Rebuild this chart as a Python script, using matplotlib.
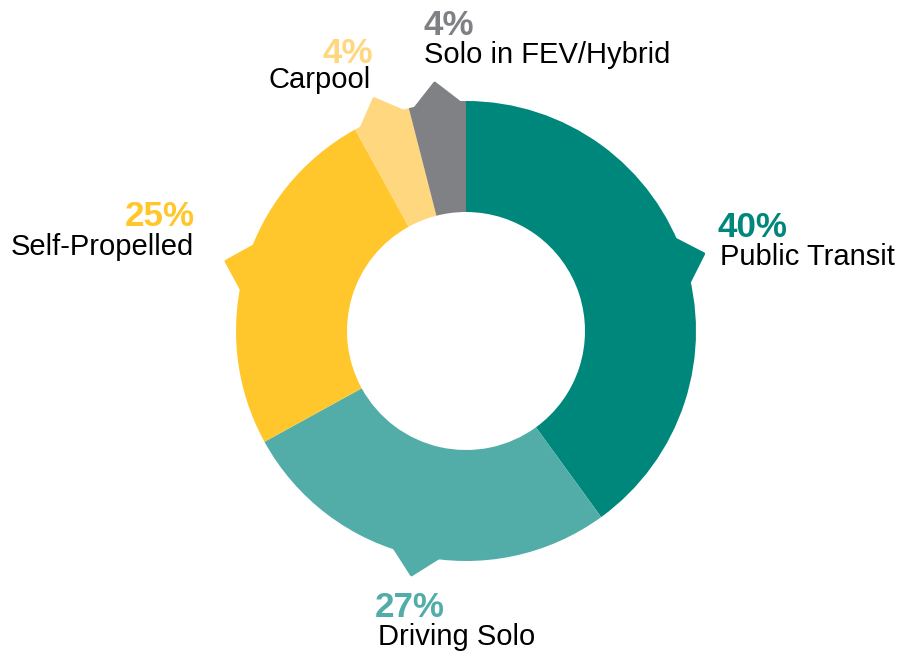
import numpy as np
import matplotlib.pyplot as plt
from matplotlib.patches import Polygon

# Commute mode share
categories = ['Public Transit', 'Driving Solo', 'Self-Propelled', 'Carpool', 'Solo in FEV/Hybrid']
shares = [40, 27, 25, 4, 4]
colors = ['#00877B', '#52ADA8', '#FFC72C', '#FFD77E', '#808185']

# label anchors in pixels (pct x, pct baseline, label x, label baseline, alignment)
label_pos = [
    (717, 237, 720, 265, 'left'),
    (375, 617, 378, 645, 'left'),
    (195, 226, 194, 255, 'right'),
    (373, 63, 371, 88, 'right'),
    (423, 35, 424, 63, 'left'),
]

W, H = 902, 654
cx, cy, R = 466, 331, 230  # donut centre and outer radius in px

fig = plt.figure(figsize=(W / 100, H / 100), dpi=100)
ax = fig.add_axes([0, 0, 1, 1])

ax.pie(shares, colors=colors, startangle=90, counterclock=False, radius=1,
       wedgeprops=dict(width=1 - 119 / R, linewidth=0))

# little pointer tabs at the middle of each slice
total = sum(shares)
start = 90.0
for val, col in zip(shares, colors):
    span = 360.0 * val / total
    mid = np.deg2rad(start - span / 2)
    hw = np.deg2rad(6.0)
    pts = [
        (0.99 * np.cos(mid - hw), 0.99 * np.sin(mid - hw)),
        (1.087 * np.cos(mid), 1.087 * np.sin(mid)),
        (0.99 * np.cos(mid + hw), 0.99 * np.sin(mid + hw)),
    ]
    ax.add_patch(Polygon(pts, closed=True, facecolor=col, edgecolor=col,
                         linewidth=2, joinstyle='round'))
    start -= span


def px(x, y):
    return (x - cx) / R, (cy - y) / R


for cat, val, col, (px_x, px_y, lx, ly, ha) in zip(categories, shares, colors, label_pos):
    ax.text(*px(px_x, px_y), f'{val}%', color=col, fontsize=25.2, fontweight='bold',
            family=['Liberation Sans', 'DejaVu Sans'], ha=ha, va='baseline')
    ax.text(*px(lx, ly), cat, color='black', fontsize=21,
            family=['Liberation Sans', 'DejaVu Sans'], ha=ha, va='baseline')

ax.set_xlim(-cx / R, (W - cx) / R)
ax.set_ylim(-(H - cy) / R, cy / R)
ax.set_aspect('auto')
ax.axis('off')

fig.savefig('out.png', dpi=100)
